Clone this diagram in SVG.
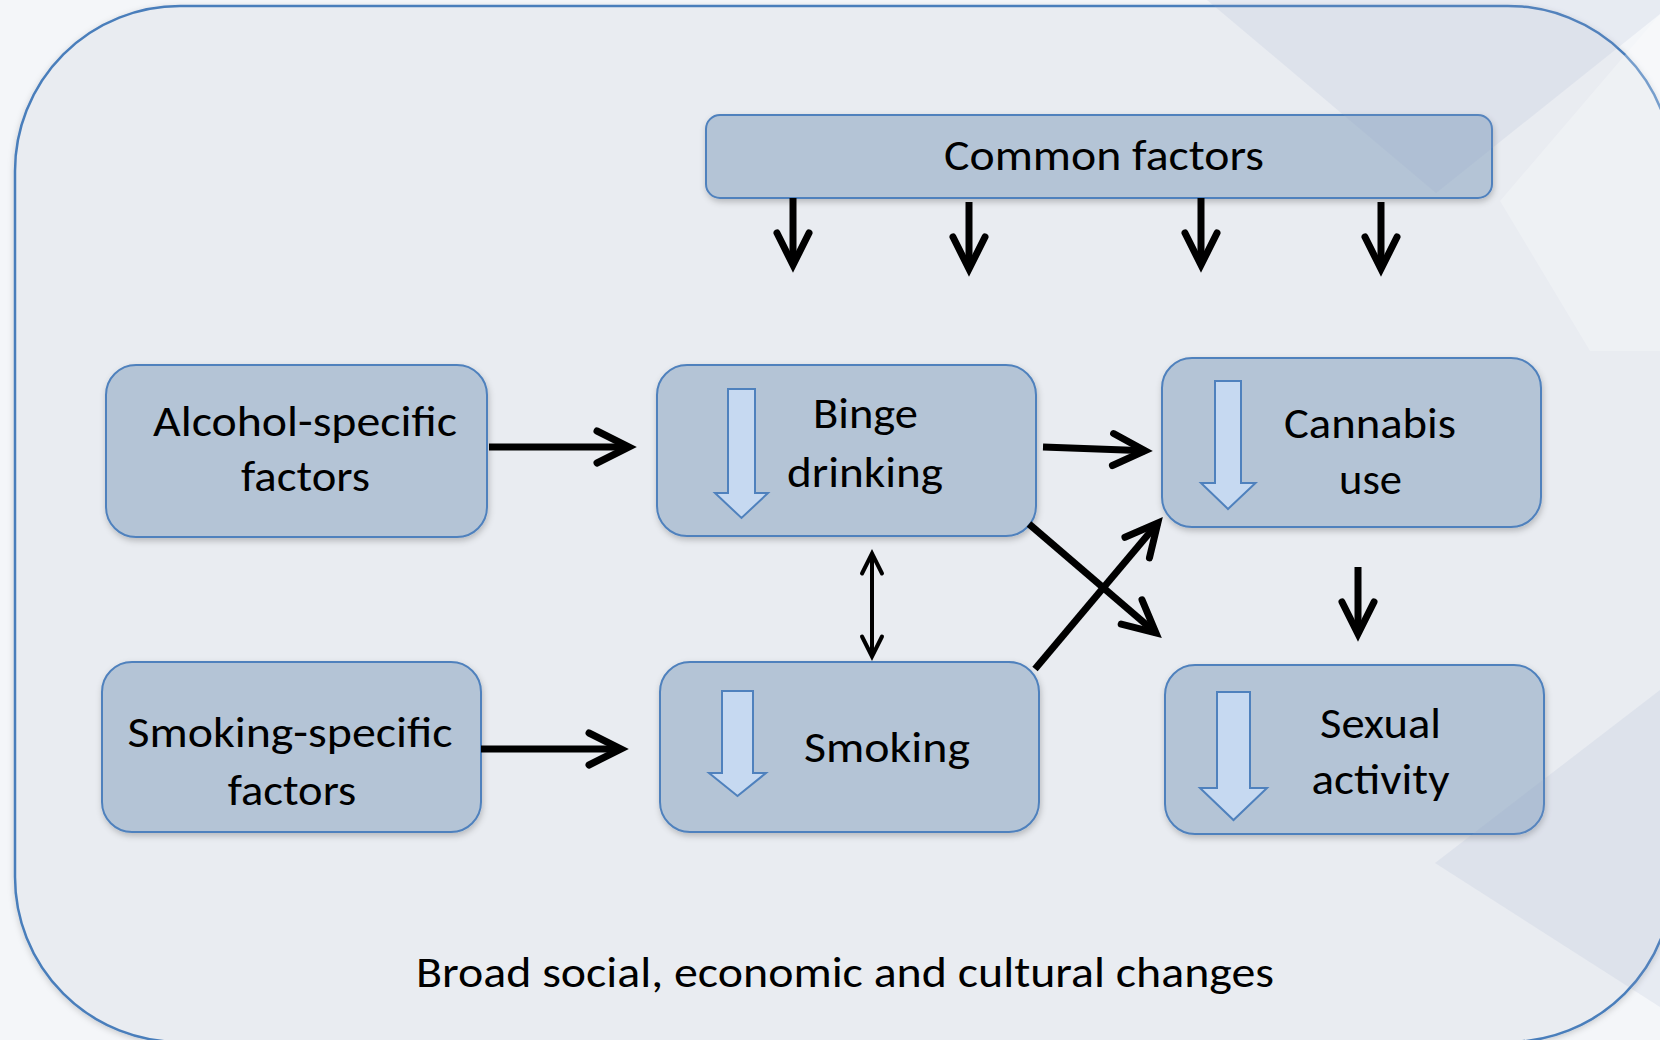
<svg xmlns="http://www.w3.org/2000/svg" width="1660" height="1040" viewBox="0 0 1660 1040">
  <defs>
    <style>
      .box { fill: #b4c4d6; stroke: #4f81bd; stroke-width: 2; filter: url(#shadow); }
      .ind { fill: #c6d9f1; stroke: #4f81bd; stroke-width: 2; stroke-linejoin: miter; }
      .lbl { font-family: Carlito, Lato, "Open Sans", sans-serif; font-size: 43px; fill: #000; text-anchor: middle; }
      .con { stroke: #000; stroke-width: 7; fill: none; }
      .thin { stroke: #000; stroke-width: 4; fill: none; }
      .deco-d { fill: #8fa5c6; opacity: 0.13; }
      .deco-l { fill: #ffffff; opacity: 0.25; }
    </style>
    <filter id="shadow" x="-10%" y="-10%" width="120%" height="130%">
      <feDropShadow dx="1" dy="3" stdDeviation="3" flood-color="#000" flood-opacity="0.22"/>
    </filter>
    <filter id="oshadow" x="-5%" y="-5%" width="110%" height="110%">
      <feDropShadow dx="0" dy="2" stdDeviation="3" flood-color="#000" flood-opacity="0.18"/>
    </filter>
    <marker id="ah" markerUnits="userSpaceOnUse" orient="auto" refX="0" refY="0" markerWidth="60" markerHeight="50" viewBox="-45 -25 60 50" overflow="visible">
      <path d="M-32,-16 L0,0 L-32,16" fill="none" stroke="#000" stroke-width="7" stroke-linecap="round" stroke-linejoin="miter"/>
    </marker>
    <marker id="ahs" markerUnits="userSpaceOnUse" orient="auto-start-reverse" refX="0" refY="0" markerWidth="40" markerHeight="30" viewBox="-30 -15 40 30" overflow="visible">
      <path d="M-20,-10 L0,0 L-20,10" fill="none" stroke="#000" stroke-width="4" stroke-linecap="round" stroke-linejoin="miter"/>
    </marker>
  </defs>

  <rect x="0" y="0" width="1660" height="1040" fill="#f4f6f9"/>
  <rect id="frame" x="15" y="6" width="1658" height="1036" rx="165" ry="165" fill="#e9ecf1" stroke="#4a7ebb" stroke-width="2.5" filter="url(#oshadow)"/>

  <g id="node-common">
    <rect class="box" x="706" y="115" width="786" height="83" rx="14"/>
    <text class="lbl" x="1104" y="170" textLength="320" lengthAdjust="spacingAndGlyphs">Common factors</text>
  </g>

  <g id="node-alcohol">
    <rect class="box" x="106" y="365" width="381" height="172" rx="30"/>
    <text class="lbl" x="305" y="436" textLength="304" lengthAdjust="spacingAndGlyphs">Alcohol-specific</text>
    <text class="lbl" x="305.5" y="491" textLength="129" lengthAdjust="spacingAndGlyphs">factors</text>
  </g>

  <g id="node-binge">
    <rect class="box" x="657" y="365" width="379" height="171" rx="30"/>
    <polygon class="ind" points="728,389 755,389 755,493 768,493 741.5,518 715,493 728,493"/>
    <text class="lbl" x="865.5" y="428" textLength="105" lengthAdjust="spacingAndGlyphs">Binge</text>
    <text class="lbl" x="865" y="487" textLength="156" lengthAdjust="spacingAndGlyphs">drinking</text>
  </g>

  <g id="node-cannabis">
    <rect class="box" x="1162" y="358" width="379" height="169" rx="30"/>
    <polygon class="ind" points="1215,381 1241,381 1241,483 1255.5,483 1228,509 1201,483 1215,483"/>
    <text class="lbl" x="1370" y="438" textLength="172" lengthAdjust="spacingAndGlyphs">Cannabis</text>
    <text class="lbl" x="1370.5" y="494" textLength="63" lengthAdjust="spacingAndGlyphs">use</text>
  </g>

  <g id="node-smoking-specific">
    <rect class="box" x="102" y="662" width="379" height="170" rx="30"/>
    <text class="lbl" x="290" y="747" textLength="325" lengthAdjust="spacingAndGlyphs">Smoking-specific</text>
    <text class="lbl" x="292" y="805" textLength="128.5" lengthAdjust="spacingAndGlyphs">factors</text>
  </g>

  <g id="node-smoking">
    <rect class="box" x="660" y="662" width="379" height="170" rx="30"/>
    <polygon class="ind" points="722,691 753,691 753,773 766,773 737.5,796 709,773 722,773"/>
    <text class="lbl" x="887" y="762" textLength="166" lengthAdjust="spacingAndGlyphs">Smoking</text>
  </g>

  <g id="node-sexual">
    <rect class="box" x="1165" y="665" width="379" height="169" rx="30"/>
    <polygon class="ind" points="1217,692 1250,692 1250,788 1267,788 1233.5,820 1200,788 1217,788"/>
    <text class="lbl" x="1380.5" y="738" textLength="121" lengthAdjust="spacingAndGlyphs">Sexual</text>
    <text class="lbl" x="1380.5" y="794" textLength="138" lengthAdjust="spacingAndGlyphs">activity</text>
  </g>

  <g id="connectors">
    <line class="con" x1="793" y1="198" x2="793" y2="265" marker-end="url(#ah)"/>
    <line class="con" x1="969" y1="202" x2="969" y2="269" marker-end="url(#ah)"/>
    <line class="con" x1="1201" y1="198" x2="1201" y2="265" marker-end="url(#ah)"/>
    <line class="con" x1="1381" y1="202" x2="1381" y2="269" marker-end="url(#ah)"/>
    <line class="con" x1="489" y1="447" x2="629" y2="447" marker-end="url(#ah)"/>
    <line class="con" x1="481" y1="749" x2="621" y2="749" marker-end="url(#ah)"/>
    <line class="con" x1="1043" y1="447" x2="1145" y2="450.7" marker-end="url(#ah)"/>
    <line class="con" x1="1029" y1="524" x2="1155.9" y2="632.8" marker-end="url(#ah)"/>
    <line class="con" x1="1035" y1="669" x2="1157.8" y2="523.1" marker-end="url(#ah)"/>
    <line class="con" x1="1358" y1="567" x2="1358" y2="634" marker-end="url(#ah)"/>
    <line class="thin" x1="872" y1="553.5" x2="872" y2="656.5" marker-start="url(#ahs)" marker-end="url(#ahs)"/>
  </g>

  <text id="caption" class="lbl" x="845" y="987" textLength="858" lengthAdjust="spacingAndGlyphs">Broad social, economic and cultural changes</text>

  <g id="decoration">
    <polygon class="deco-d" points="1207,0 1660,0 1660,14 1436,193"/>
    <polygon class="deco-l" points="1500,201 1660,14 1660,351 1590,351"/>
    <polygon class="deco-d" points="1435,863 1660,690 1660,1007"/>
  </g>
</svg>
